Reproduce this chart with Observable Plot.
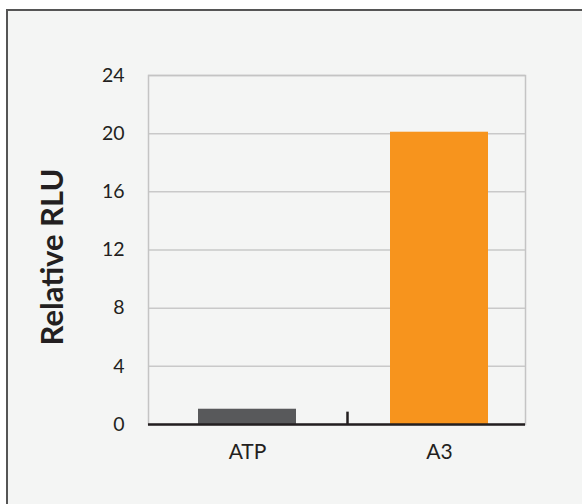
<!DOCTYPE html>
<html>
<head>
<meta charset="utf-8">
<script src="https://cdn.jsdelivr.net/npm/d3@7"></script>
<script src="https://cdn.jsdelivr.net/npm/@observablehq/plot@0.6"></script>
<style>
  html, body { margin: 0; padding: 0; background: #ffffff; }
  #wrap { position: relative; width: 582px; height: 504px; overflow: hidden; background: #ffffff; }
  #panel { position: absolute; left: 6px; top: 9px; width: 600px; height: 520px;
           background: #f4f5f4; border-left: 2.5px solid #555555; border-top: 2.5px solid #555555; }
  #chart { position: absolute; left: 0; top: 0; }
  #chart svg { background: transparent; }
</style>
</head>
<body>
<div id="wrap">
  <div id="panel"></div>
  <div id="chart"></div>
</div>
<script>
const categories = ["ATP", "A3"];
const values = [1.05, 20.1];
const barColors = ["#58595b", "#f7941d"];
const yTicks = [0, 4, 8, 12, 16, 20, 24];
const yLabel = "Relative RLU";

const data = categories.map((c, i) => ({category: c, value: values[i], color: barColors[i]}));

const chart = Plot.plot({
  width: 582,
  height: 504,
  marginLeft: 148,
  marginRight: 57,
  marginTop: 75,
  marginBottom: 80,
  style: {background: "transparent", fontFamily: "Lato", color: "#231f20", overflow: "visible"},
  x: {domain: categories, paddingInner: 0.488, paddingOuter: 0.223, align: 0.573, label: null},
  y: {domain: [0, 24], label: null},
  marks: [
    Plot.gridY(yTicks, {stroke: "#c9c9c9", strokeOpacity: 1, strokeWidth: 1.5}),
    Plot.frame({stroke: "#c4c4c4", strokeWidth: 1.5}),
    Plot.barY(data, {x: "category", y: "value", fill: "color"}),
    Plot.ruleY([0], {stroke: "#231f20", strokeWidth: 2.7}),
    Plot.ruleX(["A3"], {y1: 0, y2: 0.85, stroke: "#231f20", strokeWidth: 2.5, dx: -92}),
    Plot.axisY(yTicks, {tickSize: 0, tickPadding: 24, fontSize: 19.5, fontFamily: "Lato", fill: "#231f20", label: null}),
    Plot.axisX({tickSize: 0, tickPadding: 20, fontSize: 21, fontFamily: "Lato", fill: "#231f20", label: null}),
    Plot.text([yLabel], {frameAnchor: "left", textAnchor: "middle", rotate: -90, dx: -95, dy: 7, fontSize: 31, fontWeight: "bold", fontFamily: "Lato", fill: "#231f20"})
  ]
});
document.getElementById("chart").appendChild(chart);
</script>
</body>
</html>
